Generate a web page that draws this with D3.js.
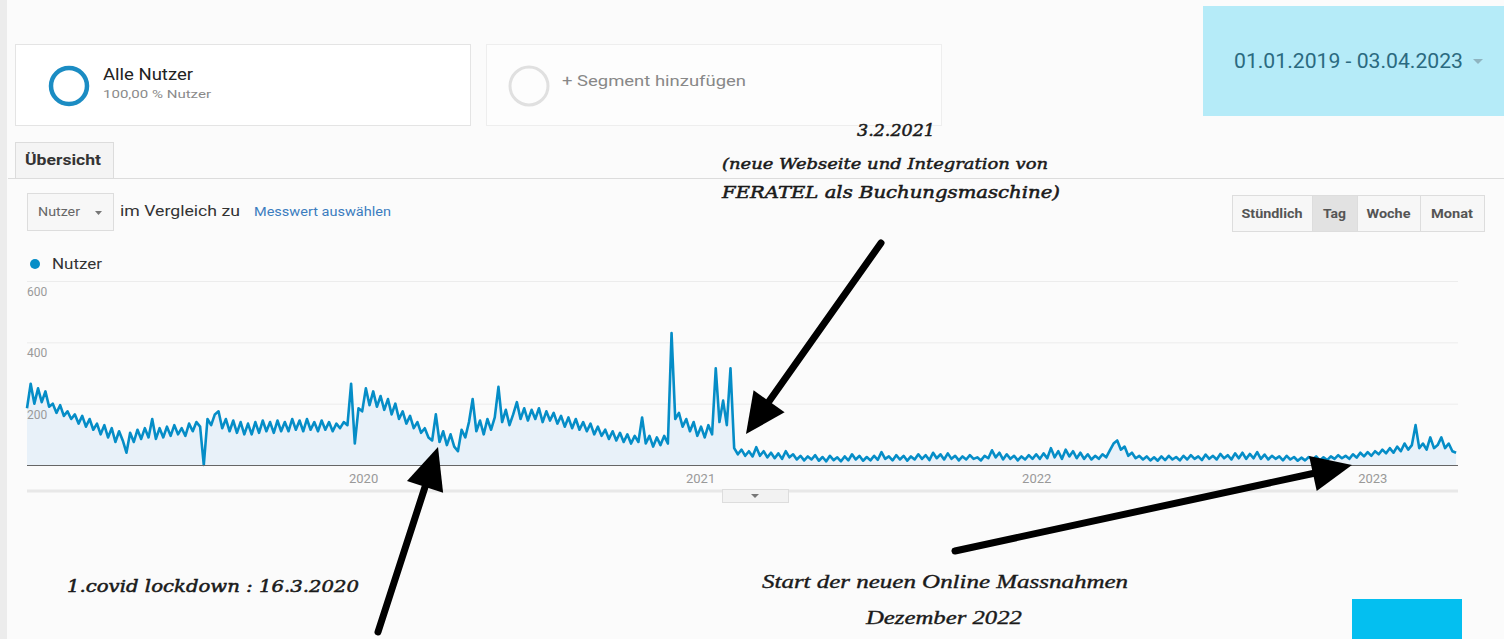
<!DOCTYPE html>
<html>
<head>
<meta charset="utf-8">
<script src="https://cdn.jsdelivr.net/npm/d3@7"></script>
<style>
  body { margin: 0; background: #fbfbfb; }
  svg { display: block; font-family: Roboto, "Liberation Sans", sans-serif; }
</style>
</head>
<body>
<svg id="chart" width="1504" height="639"></svg>
<script>
// daily users, one value every 4 days from 01.01.2019
var startDate = new Date(2019, 0, 1),
  endDate = new Date(2023, 3, 3),
  stepDays = 4;

var nutzer2019 = [185,265,200,250,205,240,190,200,170,195,160,175,150,165,135,160,125,150,115,135,
  100,130,90,120,75,110,80,40,105,75,115,85,120,90,150,85,120,90,125,95,
  130,100,120,95,135,110,140,125,0,150,130,165,175,120,150,110,145,105,140,100,
  135,100,140,105,145,110,140,105,145,110,140,110,150,115,145,110,150,115,140,110,
  145,115,140,110,135,120,140,130,265,70,185,175];
var nutzer2020 = [250,195,240,190,225,180,215,165,200,150,175,135,160,120,140,105,120,90,80,165,
  75,110,65,100,60,45,115,90,140,215,110,145,100,150,115,155,255,140,180,130,
  165,205,150,185,145,180,150,185,140,175,145,170,135,160,125,155,120,150,115,140,
  110,135,100,125,95,115,85,110,80,105,75,100,70,95,75,155,70,95,60,90,
  65,95,70,430,150,170,125,150,110,140,95];
var nutzer2021 = [125,90,130,100,315,140,210,130,315,55,35,50,30,45,28,58,30,45,25,40,
  22,38,20,45,25,35,18,30,15,28,18,32,14,26,12,30,16,25,12,28,
  15,35,18,30,14,26,15,30,17,42,20,28,15,32,18,30,14,28,18,35,
  20,32,16,40,22,35,18,38,20,30,15,28,18,32,20,25,15,30,22,48,
  25,40,18,35,20,30,15,28,18,32,20];
var nutzer2022 = [35,20,38,22,55,25,45,20,50,28,45,22,40,20,35,18,30,20,35,25,
  48,70,80,50,60,30,40,22,30,18,28,15,25,14,28,16,30,18,26,15,
  30,18,32,20,28,16,34,20,30,18,36,22,32,18,38,22,40,20,36,22,
  42,20,34,18,30,20,28,15,30,18,26,14,24,15,26,18,28,15,25,16,
  28,20,32,22,30,20,35,24,40,28,42,30];
var nutzer2023 = [45,35,50,38,55,40,60,45,70,50,65,130,55,70,50,90,55,65,90,55,
  70,45,40];
var nutzer = nutzer2019.concat(nutzer2020, nutzer2021, nutzer2022, nutzer2023);

var yTicks = [200, 400, 600];
var xYears = [2020, 2021, 2022, 2023];
var periods = ["Stündlich", "Tag", "Woche", "Monat"];
var dateRange = "01.01.2019 - 03.04.2023";

var data = nutzer.map(function(v, i) {
  return { date: d3.timeDay.offset(startDate, i * stepDays), value: v };
});

var svg = d3.select("#chart");
var blue = "#058dc7";

// small helper for ui labels (the screenshot is upscaled, so text runs wide)
function label(txt, xx, yy, size, len, fill, weight) {
  return svg.append("text").attr("x", xx).attr("y", yy).attr("font-size", size)
    .attr("fill", fill).attr("font-weight", weight || "normal")
    .attr("textLength", len).attr("lengthAdjust", "spacingAndGlyphs").text(txt);
}

// left page edge
svg.append("rect").attr("x", 0).attr("y", 0).attr("width", 7).attr("height", 639).attr("fill", "#ececec");

// segment boxes
svg.append("rect").attr("x", 15.5).attr("y", 44.5).attr("width", 455).attr("height", 81)
  .attr("fill", "#fff").attr("stroke", "#e4e4e4");
svg.append("circle").attr("cx", 69).attr("cy", 86).attr("r", 18)
  .attr("fill", "none").attr("stroke", "#1b8cc3").attr("stroke-width", 4.5);
label("Alle Nutzer", 103, 80, 16, 90, "#222");
label("100,00 % Nutzer", 103, 98, 11, 108, "#8a8a8a");

svg.append("rect").attr("x", 486.5).attr("y", 44.5).attr("width", 455).attr("height", 81)
  .attr("fill", "#fdfdfd").attr("stroke", "#eeeeee");
svg.append("circle").attr("cx", 529).attr("cy", 86).attr("r", 19)
  .attr("fill", "none").attr("stroke", "#e0e0e0").attr("stroke-width", 3);
label("+ Segment hinzufügen", 562, 86, 15, 184, "#888");

// date range
svg.append("rect").attr("x", 1203).attr("y", 6).attr("width", 301).attr("height", 110).attr("fill", "#b5ebf8");
label(dateRange, 1234, 68, 20, 229, "#2b6a80");
svg.append("path").attr("d", "M1473,59 L1483,59 L1478,64 Z").attr("fill", "#8fb4c0");

// tab
svg.append("line").attr("x1", 8).attr("x2", 1504).attr("y1", 178.5).attr("y2", 178.5).attr("stroke", "#dcdcdc");
svg.append("rect").attr("x", 15.5).attr("y", 142.5).attr("width", 98).attr("height", 36)
  .attr("fill", "#f4f4f4").attr("stroke", "#dcdcdc");
label("Übersicht", 25, 165, 14, 76, "#333", "bold");

// metric selector
svg.append("rect").attr("x", 27.5).attr("y", 193.5).attr("width", 86).attr("height", 37)
  .attr("fill", "#f7f7f7").attr("stroke", "#dddddd");
label("Nutzer", 38, 216, 12, 42, "#666");
svg.append("path").attr("d", "M95,211 L102,211 L98.5,215 Z").attr("fill", "#777");
label("im Vergleich zu", 120, 216, 15, 120, "#333");
label("Messwert auswählen", 254, 216, 12, 137, "#3b7dbf");

// period buttons
var btnX = d3.scaleOrdinal().domain(periods).range([1232, 1312, 1357, 1420]);
var btnW = d3.scaleOrdinal().domain(periods).range([80, 45, 63, 64]);
var btnLen = d3.scaleOrdinal().domain(periods).range([61, 23, 44, 42]);
var btn = svg.selectAll("g.btn").data(periods).enter().append("g").attr("class", "btn");
btn.append("rect")
  .attr("x", function(d) { return btnX(d) + 0.5; }).attr("y", 195.5)
  .attr("width", function(d) { return btnW(d); }).attr("height", 36)
  .attr("fill", function(d) { return d === "Tag" ? "#e2e2e2" : "#f7f7f7"; })
  .attr("stroke", "#dddddd");
btn.append("text")
  .attr("x", function(d) { return btnX(d) + btnW(d) / 2; }).attr("y", 218)
  .attr("text-anchor", "middle").attr("font-size", 12).attr("font-weight", "bold")
  .attr("textLength", function(d) { return btnLen(d); }).attr("lengthAdjust", "spacingAndGlyphs")
  .attr("fill", "#555").text(function(d) { return d; });

// legend
svg.append("circle").attr("cx", 35).attr("cy", 264).attr("r", 5).attr("fill", blue);
label("Nutzer", 52, 269, 14, 50, "#333");

// scales
var x = d3.scaleTime().domain([startDate, endDate]).range([27, 1457]);
var y = d3.scaleLinear().domain([0, 600]).range([465, 281]);

// grid
svg.append("g").attr("transform", "translate(27,0)")
  .call(d3.axisRight(y).tickValues(yTicks).tickSize(1431).tickFormat(""))
  .call(function(g) {
    g.select(".domain").remove();
    g.selectAll(".tick line").attr("stroke", "#ececec");
  });

// area, y labels, line
var area = d3.area().x(function(d) { return x(d.date); }).y0(y(0)).y1(function(d) { return y(d.value); });
var line = d3.line().x(function(d) { return x(d.date); }).y(function(d) { return y(d.value); });
svg.append("path").datum(data).attr("d", area).attr("fill", "#e6f0f8").attr("opacity", 0.9);
svg.selectAll("text.ylab").data(yTicks).enter().append("text").attr("class", "ylab")
  .attr("x", 27).attr("y", function(d) { return y(d) + 15; })
  .attr("font-size", 12).attr("fill", "#9a9a9a").text(function(d) { return d; });
svg.append("path").datum(data).attr("d", line).attr("fill", "none")
  .attr("stroke", blue).attr("stroke-width", 2.6).attr("stroke-linejoin", "round");

// x axis
svg.append("g").attr("transform", "translate(0,465)")
  .call(d3.axisBottom(x)
    .tickValues(xYears.map(function(yr) { return new Date(yr, 0, 1); }))
    .tickSize(0).tickPadding(9).tickFormat(d3.timeFormat("%Y")))
  .call(function(g) {
    g.select(".domain").attr("stroke", "#666").attr("d", "M27,0.5H1458");
    g.selectAll("text").attr("font-size", 13).attr("fill", "#999").attr("font-family", "Roboto, sans-serif");
  });

// scroll bar / handle under the axis
svg.append("line").attr("x1", 27).attr("x2", 1458).attr("y1", 491).attr("y2", 491)
  .attr("stroke", "#e8e8e8").attr("stroke-width", 3);
svg.append("rect").attr("x", 722.5).attr("y", 489.5).attr("width", 66).attr("height", 13)
  .attr("fill", "#f2f2f2").attr("stroke", "#dddddd");
svg.append("path").attr("d", "M751,494 L759,494 L755,498 Z").attr("fill", "#777");

// annotations
function note(txt, cx, yy, len, size, family, sw) {
  svg.append("text").attr("x", cx).attr("y", yy).attr("text-anchor", "middle")
    .attr("font-family", family).attr("font-style", "italic").attr("font-size", size)
    .attr("fill", "#1a1a1a").attr("stroke", "#1a1a1a").attr("stroke-width", sw)
    .attr("textLength", len).attr("lengthAdjust", "spacingAndGlyphs")
    .text(txt);
}
var serif = "'DejaVu Serif', serif";
note("3.2.2021", 896, 136, 78, 16, serif, 0.5);
note("(neue Webseite und Integration von", 885, 169, 326, 15, serif, 0.5);
note("FERATEL als Buchungsmaschine)", 891, 198, 338, 16, serif, 0.5);
note("1.covid lockdown : 16.3.2020", 213, 592, 292, 16, serif, 0.5);
note("Start der neuen Online Massnahmen", 945, 588, 366, 18, "'Liberation Serif', serif", 0.35);
note("Dezember 2022", 944, 624, 156, 18, "'Liberation Serif', serif", 0.35);

function arrow(x1, y1, x2, y2, headLen, headW) {
  var a = Math.atan2(y2 - y1, x2 - x1),
    bx = x2 - headLen * Math.cos(a), by = y2 - headLen * Math.sin(a),
    px = -Math.sin(a) * headW / 2, py = Math.cos(a) * headW / 2;
  svg.append("line").attr("x1", x1).attr("y1", y1).attr("x2", bx).attr("y2", by)
    .attr("stroke", "#000").attr("stroke-width", 7).attr("stroke-linecap", "round");
  svg.append("path")
    .attr("d", "M" + x2 + "," + y2 + "L" + (bx + px) + "," + (by + py) + "L" + (bx - px) + "," + (by - py) + "Z")
    .attr("fill", "#000");
}
arrow(881, 243, 746, 434, 40, 38);
arrow(378, 632, 438, 447, 42, 38);
arrow(955, 551, 1352, 465, 40, 36);

// cyan block bottom right
svg.append("rect").attr("x", 1352).attr("y", 599).attr("width", 110).attr("height", 40).attr("fill", "#04bff0");
</script>
</body>
</html>
